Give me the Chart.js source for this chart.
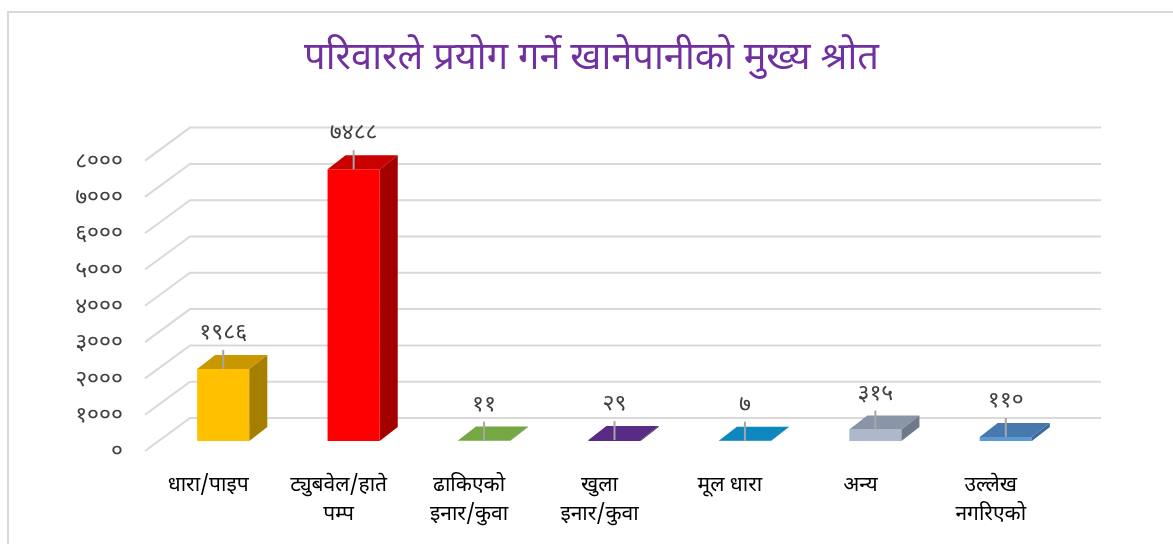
<!DOCTYPE html>
<html>
<head>
<meta charset="utf-8">
<title>खानेपानीको मुख्य श्रोत</title>
<script src="https://cdn.jsdelivr.net/npm/chart.js@4.4.1/dist/chart.umd.min.js"></script>
<style>
  html, body { margin: 0; padding: 0; background: #fff; }
  canvas { display: block; }
</style>
</head>
<body>
<canvas id="waterChart" width="1173" height="544"></canvas>
<script>
const chartTitle = 'परिवारले प्रयोग गर्ने खानेपानीको मुख्य श्रोत';
const categories = [
  ['धारा/पाइप'],
  ['ट्युबवेल/हाते', 'पम्प'],
  ['ढाकिएको', 'इनार/कुवा'],
  ['खुला', 'इनार/कुवा'],
  ['मूल धारा'],
  ['अन्य'],
  ['उल्लेख', 'नगरिएको']
];
const households = [1986, 7488, 11, 29, 7, 315, 110];
const yTicks = [0, 1000, 2000, 3000, 4000, 5000, 6000, 7000, 8000];

// front, top and side shades for each bar
const frontColors = ['#FFC000', '#FF0000', '#70AD47', '#5B2C86', '#0E88BE', '#ADB9CA', '#5B9BD5'];
const topColors   = ['#C99700', '#C80000', '#75A743', '#582B84', '#0D87BD', '#8896A8', '#4779AE'];
const sideColors  = ['#A67E00', '#A30000', '#5A8A36', '#42206A', '#0B6E9A', '#6E7A8A', '#3A6A9A'];

const devaFont = '"Noto Sans Devanagari", "Lohit Devanagari", Mangal, "Noto Sans", sans-serif';

// convert western digits to Devanagari digits
function toNepali(n) {
  return String(n).replace(/[0-9]/g, d => '०१२३४५६७८९'[d]);
}

const ctx = document.getElementById('waterChart').getContext('2d');

// back wall grid, floor diagonals, 3d faces and value labels
const wallPlugin = {
  id: 'wall',
  beforeDraw(chart) {
    const c = chart.ctx;
    c.save();
    c.fillStyle = '#fff';
    c.fillRect(0, 0, chart.width, chart.height);
    c.strokeStyle = '#D9D9D9';
    c.lineWidth = 2;
    c.strokeRect(8, 12, chart.width + 20, chart.height + 20);
    c.restore();
  },
  beforeDatasetsDraw(chart) {
    const c = chart.ctx;
    const y = chart.scales.y;
    const area = chart.chartArea;
    c.save();
    c.strokeStyle = '#D9D9D9';
    c.lineWidth = 2;
    yTicks.forEach(v => {
      const py = y.getPixelForValue(v);
      c.beginPath();
      c.moveTo(area.left - 13, py + 10);
      c.lineTo(area.left + 32, py - 23);
      c.lineTo(area.right + 30, py - 23);
      c.stroke();
    });
    c.restore();
  },
  afterDatasetsDraw(chart) {
    const c = chart.ctx;
    const meta = chart.getDatasetMeta(0);
    const dx = 18, dy = 14;
    c.save();
    meta.data.forEach((bar, i) => {
      const half = bar.width / 2;
      const l = bar.x - half, r = bar.x + half;
      const t = bar.y, b = bar.base;
      // top face
      c.fillStyle = topColors[i];
      c.beginPath();
      c.moveTo(l, t);
      c.lineTo(l + dx, t - dy);
      c.lineTo(r + dx, t - dy);
      c.lineTo(r, t);
      c.closePath();
      c.fill();
      // side face
      c.fillStyle = sideColors[i];
      c.beginPath();
      c.moveTo(r, t);
      c.lineTo(r + dx, t - dy);
      c.lineTo(r + dx, b - dy);
      c.lineTo(r, b);
      c.closePath();
      c.fill();
      // leader line and value
      c.strokeStyle = '#A6A6A6';
      c.lineWidth = 2;
      c.beginPath();
      c.moveTo(bar.x, t);
      c.lineTo(bar.x, t - 19);
      c.stroke();
      c.fillStyle = '#404040';
      c.font = '23px ' + devaFont;
      c.textAlign = 'center';
      c.textBaseline = 'middle';
      c.fillText(toNepali(households[i]), bar.x, t - 34);
    });
    c.restore();
  }
};

new Chart(ctx, {
  type: 'bar',
  data: {
    labels: categories,
    datasets: [{
      data: households,
      backgroundColor: frontColors,
      borderWidth: 0,
      barPercentage: 0.4,
      categoryPercentage: 1
    }]
  },
  options: {
    responsive: false,
    animation: false,
    layout: { padding: { left: 10, right: 0, top: 0, bottom: 0 } },
    plugins: {
      legend: { display: false },
      tooltip: { enabled: false },
      title: {
        display: true,
        text: chartTitle,
        color: '#7030A0',
        font: { family: devaFont, size: 38, weight: 'normal', lineHeight: 1.2 },
        padding: { top: 39, bottom: 66 }
      }
    },
    scales: {
      x: {
        grid: { display: false, drawTicks: false },
        border: { display: false },
        ticks: {
          color: '#000',
          font: { family: devaFont, size: 21, lineHeight: '29px' },
          padding: 32,
          labelOffset: -15,
          maxRotation: 0,
          autoSkip: false
        },
        afterFit(scale) { scale.height = 103; }
      },
      y: {
        min: 0,
        max: 8000,
        afterBuildTicks(scale) { scale.ticks = yTicks.map(v => ({ value: v })); },
        grid: { display: false, drawTicks: false },
        border: { display: false },
        ticks: {
          color: '#404040',
          font: { family: devaFont, size: 23 },
          padding: 35,
          labelOffset: 13,
          callback: v => toNepali(v)
        },
        afterFit(scale) { scale.width = 148; }
      },
      // empty right-hand strip keeping the plot clear of the right edge
      yRight: {
        position: 'right',
        grid: { display: false, drawTicks: false },
        border: { display: false },
        ticks: { display: false },
        afterFit(scale) { scale.width = 102; }
      }
    }
  },
  plugins: [wallPlugin]
});
</script>
</body>
</html>
